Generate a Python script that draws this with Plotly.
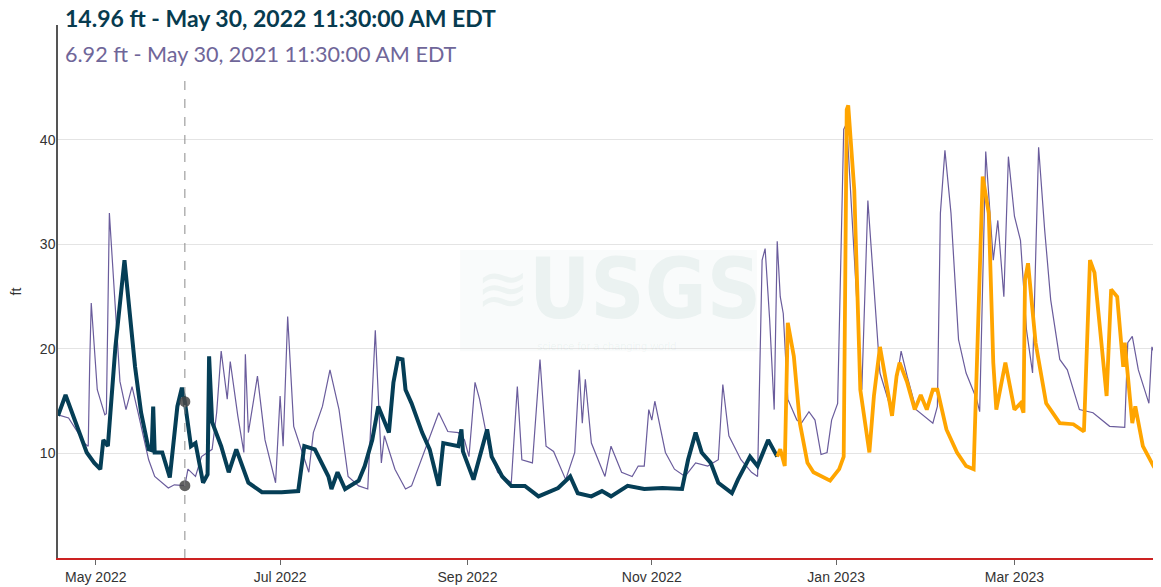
import plotly.graph_objects as go

# ---------------- data ----------------
current_dates = [
    "2022-04-18 12:00", "2022-04-21 00:00", "2022-04-28 00:00", "2022-04-30 12:00", "2022-05-02 12:00",
    "2022-05-03 12:00", "2022-05-05 00:00", "2022-05-07 12:00", "2022-05-10 12:00", "2022-05-14 00:00",
    "2022-05-16 00:00", "2022-05-18 12:00", "2022-05-19 12:00", "2022-05-20 00:00", "2022-05-20 12:00",
    "2022-05-23 00:00", "2022-05-25 12:00", "2022-05-28 00:00", "2022-05-29 12:00", "2022-05-30 11:30",
    "2022-06-01 12:00", "2022-06-03 00:00", "2022-06-05 12:00", "2022-06-07 00:00", "2022-06-07 12:00",
    "2022-06-08 12:00", "2022-06-11 12:00", "2022-06-14 00:00", "2022-06-16 12:00", "2022-06-20 12:00",
    "2022-06-25 00:00", "2022-07-01 12:00", "2022-07-07 00:00", "2022-07-09 00:00", "2022-07-12 12:00",
    "2022-07-17 00:00", "2022-07-18 00:00", "2022-07-20 00:00", "2022-07-22 12:00", "2022-07-27 00:00",
    "2022-07-29 00:00", "2022-07-31 12:00", "2022-08-02 12:00", "2022-08-06 00:00", "2022-08-07 12:00",
    "2022-08-09 00:00", "2022-08-10 12:00", "2022-08-11 12:00", "2022-08-13 12:00", "2022-08-17 00:00",
    "2022-08-19 12:00", "2022-08-22 12:00", "2022-08-24 00:00", "2022-08-29 00:00", "2022-08-30 00:00",
    "2022-08-30 12:00", "2022-09-03 00:00", "2022-09-05 12:00", "2022-09-07 12:00", "2022-09-09 00:00",
    "2022-09-12 12:00", "2022-09-15 12:00", "2022-09-20 00:00", "2022-09-24 12:00", "2022-10-01 00:00",
    "2022-10-05 00:00", "2022-10-07 12:00", "2022-10-12 00:00", "2022-10-15 12:00", "2022-10-18 12:00",
    "2022-10-24 00:00", "2022-10-29 12:00", "2022-11-04 12:00", "2022-11-11 00:00", "2022-11-13 00:00",
    "2022-11-15 12:00", "2022-11-17 12:00", "2022-11-20 12:00", "2022-11-23 00:00", "2022-11-27 12:00",
    "2022-11-29 12:00", "2022-12-03 12:00", "2022-12-06 00:00", "2022-12-09 12:00", "2022-12-12 12:00",
]
current_ft = [
    13.6, 15.6, 10.1, 9.1, 8.5,
    11.3, 10.7, 20.2, 28.5, 18.3,
    13.9, 10.4, 10.3, 14.5, 10.1,
    10.1, 7.7, 14.5, 16.3, 14.96,
    10.7, 11.0, 7.2, 8.0, 19.3,
    13.0, 10.7, 8.2, 10.4, 7.2,
    6.3, 6.3, 6.4, 10.7, 10.4,
    7.8, 6.6, 8.2, 6.6, 7.4,
    8.8, 11.3, 14.5, 12.0, 16.8,
    19.1, 19.0, 16.1, 14.8, 12.0,
    10.4, 6.9, 11.0, 10.7, 12.3,
    10.2, 7.5, 10.1, 12.3, 9.7,
    7.8, 6.9, 6.9, 5.9, 6.7,
    7.8, 6.2, 5.9, 6.4, 5.9,
    6.9, 6.6, 6.7, 6.6, 9.4,
    12.0, 10.1, 9.1, 7.2, 6.2,
    7.5, 9.7, 8.8, 11.3, 9.7,
]

recent_dates = [
    "2022-12-12 12:00", "2022-12-13 12:00", "2022-12-15 00:00", "2022-12-16 00:00", "2022-12-18 00:00",
    "2022-12-20 00:00", "2022-12-22 12:00", "2022-12-24 12:00", "2022-12-30 00:00", "2023-01-02 00:00",
    "2023-01-03 12:00", "2023-01-04 12:00", "2023-01-05 00:00", "2023-01-07 00:00", "2023-01-09 00:00",
    "2023-01-12 00:00", "2023-01-13 12:00", "2023-01-15 12:00", "2023-01-19 12:00", "2023-01-21 00:00",
    "2023-01-22 00:00", "2023-01-24 12:00", "2023-01-27 00:00", "2023-01-29 00:00", "2023-01-31 00:00",
    "2023-02-02 00:00", "2023-02-03 12:00", "2023-02-06 12:00", "2023-02-10 00:00", "2023-02-13 00:00",
    "2023-02-15 12:00", "2023-02-16 12:00", "2023-02-18 12:00", "2023-02-20 12:00", "2023-02-22 00:00",
    "2023-02-23 00:00", "2023-02-26 00:00", "2023-03-01 00:00", "2023-03-03 00:00", "2023-03-04 00:00",
    "2023-03-04 12:00", "2023-03-05 12:00", "2023-03-08 00:00", "2023-03-11 12:00", "2023-03-16 00:00",
    "2023-03-20 12:00", "2023-03-24 00:00", "2023-03-26 00:00", "2023-03-27 12:00", "2023-03-31 12:00",
    "2023-04-02 00:00", "2023-04-04 00:00", "2023-04-06 00:00", "2023-04-06 12:00", "2023-04-09 00:00",
    "2023-04-10 00:00", "2023-04-12 12:00", "2023-04-16 00:00", "2023-04-18 12:00",
]
recent_ft = [
    9.7, 10.4, 8.8, 22.5, 19.3,
    12.9, 9.1, 8.2, 7.4, 8.5,
    9.7, 42.9, 43.3, 35.2, 16.1,
    10.1, 15.5, 20.2, 13.6, 17.4,
    18.7, 16.8, 14.2, 15.6, 14.2,
    16.1, 16.1, 12.3, 10.1, 8.8,
    8.5, 18.7, 36.5, 33.0, 18.7,
    14.2, 18.7, 14.2, 14.8, 13.9,
    26.6, 28.2, 20.6, 14.8, 12.9,
    12.8, 12.1, 28.5, 27.3, 15.5,
    25.7, 25.0, 18.3, 20.6, 12.9,
    14.5, 10.7, 8.8, 7.8,
]

prior_year_dates = [
    "2022-04-18 12:00", "2022-04-22 00:00", "2022-04-27 12:00", "2022-04-28 12:00", "2022-04-29 00:00",
    "2022-04-29 12:00", "2022-05-01 12:00", "2022-05-04 00:00", "2022-05-04 12:00", "2022-05-05 12:00",
    "2022-05-08 00:00", "2022-05-09 00:00", "2022-05-11 00:00", "2022-05-13 00:00", "2022-05-15 00:00",
    "2022-05-18 12:00", "2022-05-20 12:00", "2022-05-25 00:00", "2022-05-27 00:00", "2022-05-30 11:30",
    "2022-05-31 12:00", "2022-06-03 00:00", "2022-06-05 00:00", "2022-06-08 12:00", "2022-06-10 00:00",
    "2022-06-11 12:00", "2022-06-13 12:00", "2022-06-14 12:00", "2022-06-17 00:00", "2022-06-19 00:00",
    "2022-06-19 12:00", "2022-06-20 12:00", "2022-06-23 12:00", "2022-06-26 00:00", "2022-06-29 12:00",
    "2022-07-01 00:00", "2022-07-02 00:00", "2022-07-03 12:00", "2022-07-05 12:00", "2022-07-10 12:00",
    "2022-07-12 00:00", "2022-07-15 00:00", "2022-07-17 12:00", "2022-07-20 12:00", "2022-07-23 12:00",
    "2022-07-27 00:00", "2022-07-30 00:00", "2022-08-01 12:00", "2022-08-03 12:00", "2022-08-04 12:00",
    "2022-08-08 00:00", "2022-08-11 12:00", "2022-08-13 12:00", "2022-08-17 00:00", "2022-08-21 12:00",
    "2022-08-22 12:00", "2022-08-25 12:00", "2022-08-29 00:00", "2022-08-31 00:00", "2022-09-01 12:00",
    "2022-09-02 12:00", "2022-09-03 12:00", "2022-09-05 00:00", "2022-09-08 00:00", "2022-09-11 00:00",
    "2022-09-15 12:00", "2022-09-17 12:00", "2022-09-19 00:00", "2022-09-22 12:00", "2022-09-25 00:00",
    "2022-09-27 00:00", "2022-09-29 12:00", "2022-10-03 12:00", "2022-10-06 12:00", "2022-10-08 00:00",
    "2022-10-09 00:00", "2022-10-10 00:00", "2022-10-12 00:00", "2022-10-15 12:00", "2022-10-16 12:00",
    "2022-10-18 12:00", "2022-10-22 00:00", "2022-10-25 12:00", "2022-10-27 12:00", "2022-10-29 12:00",
    "2022-10-31 00:00", "2022-11-01 00:00", "2022-11-02 00:00", "2022-11-05 12:00", "2022-11-08 12:00",
    "2022-11-12 00:00", "2022-11-15 12:00", "2022-11-19 12:00", "2022-11-23 00:00", "2022-11-24 12:00",
    "2022-11-26 12:00", "2022-11-30 12:00", "2022-12-04 00:00", "2022-12-06 00:00", "2022-12-07 12:00",
    "2022-12-08 12:00", "2022-12-10 00:00", "2022-12-11 12:00", "2022-12-12 12:00", "2022-12-13 12:00",
    "2022-12-14 12:00", "2022-12-16 00:00", "2022-12-19 00:00", "2022-12-20 12:00", "2022-12-23 00:00",
    "2022-12-25 00:00", "2022-12-27 00:00", "2022-12-29 00:00", "2022-12-30 12:00", "2023-01-01 12:00",
    "2023-01-03 12:00", "2023-01-04 12:00", "2023-01-06 12:00", "2023-01-09 12:00", "2023-01-11 12:00",
    "2023-01-14 00:00", "2023-01-15 12:00", "2023-01-19 12:00", "2023-01-22 12:00", "2023-01-24 12:00",
    "2023-01-27 12:00", "2023-02-02 00:00", "2023-02-03 12:00", "2023-02-04 12:00", "2023-02-06 00:00",
    "2023-02-08 00:00", "2023-02-10 12:00", "2023-02-13 00:00", "2023-02-16 12:00", "2023-02-17 12:00",
    "2023-02-19 12:00", "2023-02-22 00:00", "2023-02-23 12:00", "2023-02-25 12:00", "2023-02-27 00:00",
    "2023-03-01 00:00", "2023-03-03 00:00", "2023-03-05 00:00", "2023-03-07 00:00", "2023-03-09 00:00",
    "2023-03-11 00:00", "2023-03-13 00:00", "2023-03-16 00:00", "2023-03-18 12:00", "2023-03-22 12:00",
    "2023-03-27 00:00", "2023-04-01 12:00", "2023-04-06 12:00", "2023-04-07 12:00", "2023-04-09 00:00",
    "2023-04-11 00:00", "2023-04-14 12:00", "2023-04-15 12:00", "2023-04-17 12:00", "2023-04-18 12:00",
]
prior_year_ft = [
    13.7, 13.4, 10.9, 10.7, 18.7,
    24.4, 16.1, 13.7, 13.8, 33.0,
    21.5, 16.9, 14.2, 16.4, 13.9,
    9.4, 7.8, 6.7, 7.0, 6.92,
    8.5, 7.8, 9.7, 10.4, 13.9,
    19.8, 15.2, 18.8, 13.6, 10.1,
    19.5, 12.0, 17.4, 11.3, 7.2,
    15.5, 10.7, 23.1, 12.6, 8.2,
    12.0, 14.5, 18.0, 14.2, 7.8,
    6.9, 6.6, 21.8, 9.1, 11.7,
    8.5, 6.6, 6.9, 9.7, 13.2,
    13.9, 12.1, 12.0, 11.3, 9.7,
    13.2, 16.8, 15.2, 10.7, 8.2,
    7.2, 16.4, 9.4, 9.1, 19.0,
    10.7, 10.2, 7.5, 10.1, 18.0,
    12.9, 17.1, 11.0, 8.5, 7.8,
    10.7, 8.2, 7.8, 8.8, 8.8,
    14.2, 13.2, 15.0, 10.1, 8.5,
    7.8, 9.1, 8.8, 9.4, 16.6,
    11.7, 9.4, 8.2, 7.8, 28.5,
    29.6, 22.8, 14.2, 30.3, 25.0,
    23.4, 15.2, 13.2, 12.9, 14.0,
    13.2, 9.9, 10.1, 13.2, 14.8,
    41.0, 41.6, 31.4, 16.1, 34.2,
    23.4, 17.7, 13.9, 19.8, 17.4,
    14.2, 12.9, 14.5, 33.0, 39.0,
    33.0, 20.9, 17.7, 15.2, 14.0,
    38.9, 28.5, 32.3, 25.0, 38.4,
    32.7, 30.4, 21.8, 17.7, 39.3,
    31.4, 24.7, 19.0, 18.0, 14.2,
    13.9, 12.6, 12.5, 20.6, 21.2,
    18.0, 14.8, 20.2, 18.7, 14.2,
]

cursor_date = "2022-05-30 11:30"
cursor_current_ft = 14.96
cursor_prior_ft = 6.92

x_tick_vals = ["2022-05-01", "2022-07-01", "2022-09-01", "2022-11-01", "2023-01-01", "2023-03-01"]
x_tick_text = ["May 2022", "Jul 2022", "Sep 2022", "Nov 2022", "Jan 2023", "Mar 2023"]
y_tick_vals = [10, 20, 30, 40]

headline_current = "14.96 ft - May 30, 2022 11:30:00 AM EDT"
headline_prior = "6.92 ft - May 30, 2021 11:30:00 AM EDT"

# ---------------- figure ----------------
TEAL = "#053e56"
PURPLE = "#6a5c9c"
ORANGE = "#ffa500"

fig = go.Figure()

fig.add_trace(go.Scatter(x=prior_year_dates, y=prior_year_ft, mode="lines",
                         line=dict(color=PURPLE, width=1.2), name="Last year", hoverinfo="skip"))
fig.add_trace(go.Scatter(x=current_dates, y=current_ft, mode="lines",
                         line=dict(color=TEAL, width=4), name="Current", hoverinfo="skip"))
fig.add_trace(go.Scatter(x=recent_dates, y=recent_ft, mode="lines",
                         line=dict(color=ORANGE, width=3.8), name="Recent", hoverinfo="skip"))
fig.add_trace(go.Scatter(x=[cursor_date, cursor_date], y=[cursor_current_ft, cursor_prior_ft],
                         mode="markers", marker=dict(size=11, color="rgba(70,70,70,0.85)"),
                         hoverinfo="skip"))

font_axis = "Liberation Sans, Arial, sans-serif"
font_head = "Lato, 'Source Sans Pro', 'Noto Sans', sans-serif"

# The page body has an 8px margin, so the figure is sized to fill the rest of the window.
fig.update_layout(
    width=1153, height=579,
    margin=dict(l=50, r=0, t=17, b=29, autoexpand=False),
    paper_bgcolor="white", plot_bgcolor="white",
    showlegend=False,
    xaxis=dict(
        type="date",
        range=["2022-04-18 12:00", "2023-04-18 12:00"],
        tickvals=x_tick_vals, ticktext=x_tick_text,
        ticks="outside", ticklen=5, tickcolor="#666", tickwidth=1,
        showgrid=False, zeroline=False, automargin=False,
        showline=True, linecolor="#cc2222", linewidth=2,
        tickfont=dict(family=font_axis, size=14, color="#333"),
    ),
    yaxis=dict(
        range=[0, 51],
        tickvals=y_tick_vals,
        showgrid=True, gridcolor="#e4e4e4", gridwidth=1,
        zeroline=False, automargin=False,
        showline=True, linecolor="#555", linewidth=1.5,
        ticks="", ticklabelstandoff=-2,
        tickfont=dict(family=font_axis, size=14, color="#333"),
        title=dict(text="ft", font=dict(family=font_axis, size=14, color="#333"), standoff=19),
    ),
    shapes=[
        dict(type="rect", xref="paper", yref="paper", x0=0.3645, x1=0.6337, y0=0.388, y1=0.578,
             fillcolor="rgba(20,90,70,0.025)", line=dict(width=0), layer="below"),
        dict(type="line", xref="x", yref="paper", x0=cursor_date, x1=cursor_date, y0=0, y1=0.90,
             line=dict(color="#8a8a8a", width=1, dash="dash")),
    ],
    annotations=[
        dict(text="<b>" + headline_current + "</b>", xref="paper", yref="paper", x=0.0045, y=1.014,
             xanchor="left", yanchor="middle", showarrow=False,
             font=dict(family=font_head, size=23, color="#073b4f")),
        dict(text=headline_prior, xref="paper", yref="paper", x=0.0045, y=0.946,
             xanchor="left", yanchor="middle", showarrow=False,
             font=dict(family=font_head, size=21.6, color="#6f6699")),
        dict(text="<b>USGS</b>", xref="paper", yref="paper", x=0.532, y=0.505,
             xanchor="center", yanchor="middle", showarrow=False,
             font=dict(family="'Liberation Sans Narrow', 'DejaVu Sans Condensed', sans-serif",
                       size=84, color="rgba(20,100,80,0.06)")),
        dict(text="≋", xref="paper", yref="paper", x=0.403, y=0.505,
             xanchor="center", yanchor="middle", showarrow=False,
             font=dict(family="DejaVu Sans, sans-serif", size=64, color="rgba(20,100,80,0.05)")),
        dict(text="science for a changing world", xref="paper", yref="paper", x=0.497, y=0.398,
             xanchor="center", yanchor="middle", showarrow=False,
             font=dict(family="Liberation Sans, sans-serif", size=11, color="rgba(20,100,80,0.06)")),
    ],
)

fig.write_html("out.html")
